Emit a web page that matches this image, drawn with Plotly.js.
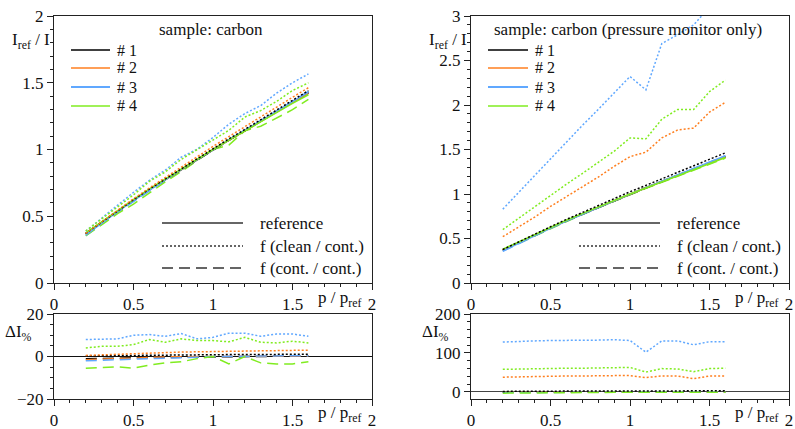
<!DOCTYPE html>
<html>
<head>
<meta charset="utf-8">
<script src="https://cdn.plot.ly/plotly-3.0.1.min.js"></script>
<style>html,body{margin:0;padding:0;background:#fff;}#chart{width:795px;height:429px;}</style>
</head>
<body>
<div id="chart"></div>
<script>
// ---------- data ----------
const pX = [0.2,0.3,0.4,0.5,0.6,0.7,0.8,0.9,1.0,1.1,1.2,1.3,1.4,1.5,1.6];
const sampleNames = ['# 1','# 2','# 3','# 4'];
const sampleColors = ['#000000','#ff7f1f','#60a8ff','#80ec20'];
const styleNames = ['reference','f (clean / cont.)','f (cont. / cont.)'];

// left panel: sample carbon
const L_ref1 = [0.37,0.455,0.54,0.62,0.70,0.775,0.85,0.925,1.0,1.07,1.14,1.21,1.285,1.355,1.425];
const L_ref2 = [0.37,0.456,0.541,0.622,0.70,0.776,0.851,0.926,1.0,1.071,1.142,1.212,1.283,1.352,1.42];
const L_ref3 = [0.36,0.45,0.535,0.617,0.697,0.773,0.85,0.925,1.0,1.072,1.143,1.214,1.286,1.356,1.43];
const L_ref4 = [0.375,0.46,0.545,0.625,0.705,0.78,0.855,0.928,1.0,1.07,1.14,1.21,1.278,1.345,1.41];
const L_clean1 = [0.371,0.457,0.543,0.624,0.704,0.78,0.856,0.932,1.008,1.08,1.15,1.222,1.298,1.37,1.441];
const L_clean2 = [0.372,0.46,0.547,0.631,0.712,0.791,0.869,0.946,1.023,1.097,1.172,1.245,1.319,1.391,1.463];
const L_clean3 = [0.389,0.487,0.579,0.679,0.769,0.846,0.942,1.002,1.09,1.19,1.269,1.329,1.422,1.50,1.566];
const L_clean4 = [0.39,0.482,0.571,0.66,0.761,0.832,0.926,0.998,1.075,1.144,1.243,1.291,1.36,1.442,1.50];
const L_cont1 = [0.366,0.45,0.536,0.616,0.697,0.772,0.847,0.923,1.0,1.069,1.14,1.21,1.286,1.356,1.428];
const L_cont2 = [0.364,0.451,0.537,0.619,0.698,0.774,0.85,0.926,1.0,1.071,1.143,1.213,1.286,1.355,1.424];
const L_cont3 = [0.353,0.442,0.527,0.61,0.69,0.768,0.846,0.922,1.0,1.073,1.145,1.216,1.29,1.36,1.436];
const L_cont4 = [0.354,0.436,0.519,0.591,0.677,0.757,0.834,0.919,1.0,1.033,1.14,1.174,1.233,1.298,1.375];
const LD_clean1 = [0.3,0.4,0.5,0.6,0.6,0.7,0.7,0.8,0.8,0.9,0.9,1.0,1.0,1.1,1.1];
const LD_clean2 = [0.5,0.8,1.2,1.5,1.7,1.9,2.1,2.2,2.3,2.4,2.6,2.7,2.8,2.9,3.0];
const LD_clean3 = [8,8.2,8.3,10,10.3,9.5,10.8,8.3,9,11,11,9.5,10.6,10.6,9.5];
const LD_clean4 = [4,4.8,4.8,5.6,8,6.7,8.3,7.5,7.5,6.9,9,6.7,6.4,7.2,6.4];
const LD_cont1 = [-1,-1,-0.8,-0.6,-0.5,-0.4,-0.3,-0.2,0,-0.1,0,0,0.1,0.1,0.2];
const LD_cont2 = [-1.5,-1.2,-0.8,-0.5,-0.3,-0.2,-0.1,0,0,0,0.1,0.1,0.2,0.2,0.3];
const LD_cont3 = [-2,-1.8,-1.5,-1.2,-1,-0.7,-0.5,-0.3,0,0.1,0.2,0.2,0.3,0.3,0.4];
const LD_cont4 = [-5.5,-5.2,-4.8,-5.5,-4,-3,-2.5,-1,0,-3.5,0,-3,-3.5,-3.5,-2.5];

// right panel: sample carbon (pressure monitor only)
const R_ref1 = [0.37,0.455,0.54,0.62,0.70,0.775,0.85,0.925,1.0,1.07,1.14,1.21,1.28,1.35,1.42];
const R_ref2 = [0.372,0.457,0.541,0.621,0.701,0.776,0.851,0.926,1.0,1.07,1.14,1.21,1.28,1.35,1.42];
const R_ref3 = [0.36,0.448,0.533,0.615,0.696,0.772,0.849,0.925,1.0,1.072,1.144,1.215,1.287,1.358,1.43];
const R_ref4 = [0.38,0.463,0.546,0.626,0.705,0.78,0.855,0.928,1.0,1.068,1.136,1.204,1.272,1.34,1.41];
const R_clean1 = [0.376,0.464,0.551,0.632,0.714,0.794,0.871,0.948,1.025,1.097,1.169,1.24,1.318,1.39,1.463];
const R_clean2 = [0.52,0.63,0.74,0.86,0.97,1.08,1.19,1.31,1.42,1.47,1.63,1.72,1.74,1.92,2.03];
const R_clean3 = [0.83,1.02,1.2,1.4,1.58,1.77,1.95,2.14,2.32,2.17,2.69,2.79,2.9,3.1,3.28];
const R_clean4 = [0.60,0.73,0.86,0.99,1.11,1.23,1.35,1.48,1.63,1.62,1.84,1.95,1.95,2.15,2.28];
const R_cont1 = [0.366,0.451,0.537,0.618,0.698,0.773,0.848,0.923,0.998,1.068,1.138,1.208,1.278,1.348,1.418];
const R_cont2 = [0.368,0.453,0.538,0.619,0.699,0.774,0.849,0.924,0.999,1.069,1.139,1.209,1.279,1.349,1.419];
const R_cont3 = [0.355,0.444,0.53,0.613,0.694,0.771,0.848,0.924,0.999,1.071,1.143,1.214,1.286,1.357,1.429];
const R_cont4 = [0.369,0.45,0.533,0.613,0.691,0.769,0.846,0.919,0.995,1.063,1.131,1.198,1.266,1.333,1.403];
const RD_clean1 = [1.5,2,2,2,2,2.5,2.5,2.5,2.5,2.5,2.5,2.5,3,3,3];
const RD_clean2 = [38,39,40,40,41,41,42,42,42,37,41,41,34,41,41];
const RD_clean3 = [128,130,131,132,132,133,133,134,132,102,131,131,121,129,129];
const RD_clean4 = [58,59,60,60,61,61,62,62,63,51,60,59,52,60,61];
const RD_cont1 = [-1,-1,-0.5,-0.3,-0.2,-0.2,-0.2,-0.1,-0.1,-0.1,-0.1,-0.1,-0.1,-0.1,-0.1];
const RD_cont2 = [-1,-0.8,-0.6,-0.4,-0.3,-0.2,-0.2,-0.1,-0.1,-0.1,-0.1,-0.1,-0.1,-0.1,-0.1];
const RD_cont3 = [-1.5,-1.2,-1,-0.8,-0.5,-0.3,-0.2,-0.1,-0.1,0,0,0,0,0,0];
const RD_cont4 = [-3,-3,-2.5,-2.5,-2,-1.5,-1.2,-1,-0.8,-0.8,-0.8,-0.8,-0.8,-0.8,-0.8];

// ---------- build ----------
const W = 795, H = 429;
const FONT = '"Liberation Serif"';
const DOT = '2px,2px';
const DASH = '11px,6px';
const dashes = ['solid', DOT, DASH];

const traces = [];
function add(y, xa, ya, color, dash) {
  traces.push({x: pX, y: y, xaxis: xa, yaxis: ya, type: 'scatter', mode: 'lines',
    line: {color: color, width: 1.5, dash: dash}, showlegend: false, hoverinfo: 'skip'});
}
const Lmain = [[L_ref1,L_ref2,L_ref3,L_ref4],[L_clean1,L_clean2,L_clean3,L_clean4],[L_cont1,L_cont2,L_cont3,L_cont4]];
const Rmain = [[R_ref1,R_ref2,R_ref3,R_ref4],[R_clean1,R_clean2,R_clean3,R_clean4],[R_cont1,R_cont2,R_cont3,R_cont4]];
const Ldel = [null,[LD_clean1,LD_clean2,LD_clean3,LD_clean4],[LD_cont1,LD_cont2,LD_cont3,LD_cont4]];
const Rdel = [null,[RD_clean1,RD_clean2,RD_clean3,RD_clean4],[RD_cont1,RD_cont2,RD_cont3,RD_cont4]];
[2,0,1].forEach(s => {
  for (let i = 0; i < 4; i++) {
    add(Lmain[s][i], 'x', 'y', sampleColors[i], dashes[s]);
    add(Rmain[s][i], 'x3', 'y3', sampleColors[i], dashes[s]);
    if (Ldel[s]) {
      add(Ldel[s][i], 'x2', 'y2', sampleColors[i], dashes[s]);
      add(Rdel[s][i], 'x4', 'y4', sampleColors[i], dashes[s]);
    }
  }
});

const px = v => v / W;
const py = v => 1 - v / H;

function xax(dom, anchor) {
  return {domain: dom, anchor: anchor, range: [0, 2], dtick: 0.5, tick0: 0,
    showline: true, mirror: true, linecolor: '#222', linewidth: 1,
    ticks: 'outside', ticklen: 6, tickcolor: '#222', tickwidth: 1,
    minor: {dtick: 0.1, ticklen: 3, tickcolor: '#222', ticks: 'outside'},
    showgrid: false, zeroline: false, fixedrange: true,
    tickfont: {family: FONT, size: 17, color: '#111'}};
}
function yax(dom, anchor, range, dtick, mdtick, zl, zlc) {
  return {domain: dom, anchor: anchor, range: range, dtick: dtick, tick0: 0,
    showline: true, mirror: true, linecolor: '#222', linewidth: 1,
    ticks: 'outside', ticklen: 6, tickcolor: '#222', tickwidth: 1,
    minor: {dtick: mdtick, ticklen: 3, tickcolor: '#222', ticks: 'outside'},
    showgrid: false, zeroline: zl, zerolinecolor: zlc || '#111', zerolinewidth: 1,
    fixedrange: true, tickfont: {family: FONT, size: 17, color: '#111'}};
}

const xL = [px(54), px(372)], xR = [px(471), px(789)];
const yMain = [py(283), py(16)], yDel = [py(399), py(314)];

const annotations = [];
const shapes = [];
function txt(x, y, text, xanchor, size) {
  annotations.push({xref: 'paper', yref: 'paper', x: px(x), y: py(y), text: text,
    xanchor: xanchor, yanchor: 'middle', showarrow: false,
    font: {family: FONT, size: size || 17, color: '#111'}});
}
function seg(x0, x1, y, color, dash, w) {
  shapes.push({type: 'line', xref: 'paper', yref: 'paper', x0: px(x0), x1: px(x1), y0: py(y), y1: py(y),
    line: {color: color, width: w || 1.5, dash: dash}});
}

// axis titles
[0, 417].forEach(xoff => {
  txt(363 + xoff, 299, 'p / p<sub>ref</sub>', 'right');
  txt(363 + xoff, 414, 'p / p<sub>ref</sub>', 'right');
});
txt(52, 41, 'I<sub>ref</sub> / I', 'right');
txt(469, 41, 'I<sub>ref</sub> / I', 'right');
txt(34, 333, '\u0394I<sub>%</sub>', 'right');
txt(451, 333, '\u0394I<sub>%</sub>', 'right');

// panel titles
txt(211, 30, 'sample: carbon', 'center');
txt(628, 30, 'sample: carbon (pressure monitor only)', 'center');

// sample keys
const keyRowsY = [50, 68, 87, 106];
for (let i = 0; i < 4; i++) {
  seg(71, 110, keyRowsY[i], sampleColors[i], 'solid', i === 2 ? 2 : 1.5);
  txt(115, keyRowsY[i], sampleNames[i], 'left', 16);
  seg(488, 528, keyRowsY[i], sampleColors[i], 'solid', i === 2 ? 2 : 1.5);
  txt(533, keyRowsY[i], sampleNames[i], 'left', 16);
}
// style keys
const styleRowsY = [223, 246, 268];
for (let s = 0; s < 3; s++) {
  seg(162, 243, styleRowsY[s], '#333', dashes[s], 1.5);
  txt(258, styleRowsY[s], styleNames[s], 'left');
  seg(579, 660, styleRowsY[s], '#333', dashes[s], 1.5);
  txt(675, styleRowsY[s], styleNames[s], 'left');
}

const layout = {
  width: W, height: H, margin: {l: 0, r: 0, t: 0, b: 0},
  paper_bgcolor: '#fff', plot_bgcolor: '#fff', showlegend: false,
  font: {family: FONT, size: 17, color: '#111'},
  xaxis: xax(xL, 'y'), yaxis: yax(yMain, 'x', [0, 2], 0.5, 0.1, false),
  xaxis2: xax(xL, 'y2'), yaxis2: yax(yDel, 'x2', [-20, 20], 20, 5, true),
  xaxis3: xax(xR, 'y3'), yaxis3: yax(yMain, 'x3', [0, 3], 0.5, 0.1, false),
  xaxis4: xax(xR, 'y4'), yaxis4: yax(yDel, 'x4', [-18, 200], 100, 20, true, '#444'),
  annotations: annotations, shapes: shapes
};

Plotly.newPlot('chart', traces, layout, {displayModeBar: false, staticPlot: true});
</script>
</body>
</html>
